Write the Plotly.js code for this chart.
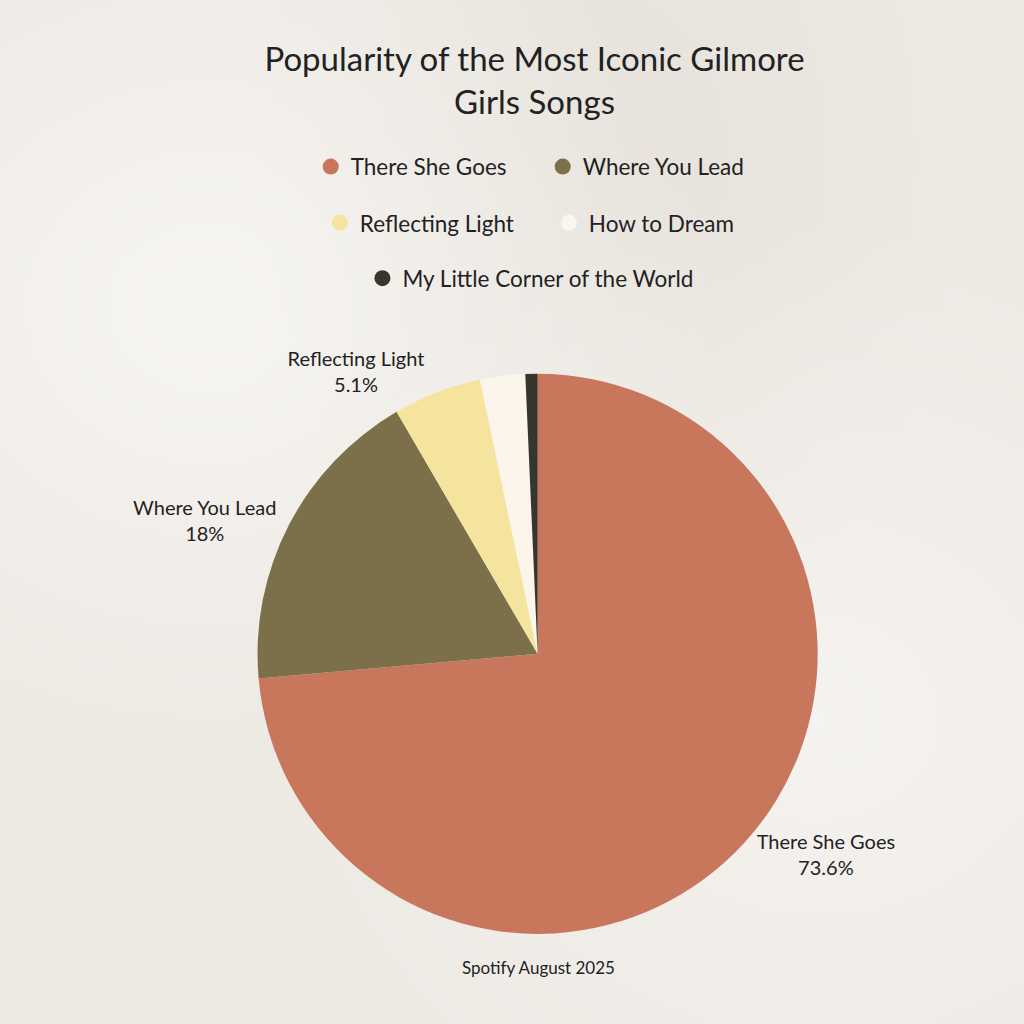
<!DOCTYPE html>
<html>
<head>
<meta charset="utf-8">
<script src="https://cdn.plot.ly/plotly-3.0.1.min.js"></script>
<style>
  html, body { margin: 0; padding: 0; }
  body {
    width: 1024px; height: 1024px;
    background:
      radial-gradient(ellipse at 20% 30%, rgba(255,255,255,0.55), rgba(255,255,255,0) 45%),
      radial-gradient(ellipse at 80% 70%, rgba(255,255,255,0.45), rgba(255,255,255,0) 50%),
      radial-gradient(ellipse at 60% 15%, rgba(220,214,205,0.35), rgba(220,214,205,0) 40%),
      #ede9e3;
  }
  #chart { width: 1024px; height: 1024px; }
</style>
</head>
<body>
<div id="chart"></div>
<script>
// ---- data ----
const songs = ["There She Goes", "Where You Lead", "Reflecting Light", "How to Dream", "My Little Corner of the World"];
const shares = [73.6, 18, 5.1, 2.6, 0.7];
const colors = ["#c8765c", "#7b7049", "#f4e49e", "#fcf5ec", "#37352c"];
const showLabel = [true, true, true, false, false];
const legendRow = ["legend", "legend", "legend2", "legend2", "legend3"];
const titleText = "Popularity of the Most Iconic Gilmore<br>Girls Songs";
const sourceText = "Spotify August 2025";

const FONT = "Lato, 'Open Sans', sans-serif";
const TEXT = "#222222";

const pieTrace = {
  type: "pie",
  labels: songs,
  values: shares,
  marker: { colors: colors, line: { width: 0 } },
  sort: false,
  direction: "clockwise",
  rotation: 0,
  textposition: "outside",
  texttemplate: showLabel.map(s => s ? "%{label}<br>%{percent}" : ""),
  textfont: { family: FONT, size: 20, color: TEXT },
  showlegend: false,
  hoverinfo: "label+percent",
  domain: { x: [0.05, 1.0], y: [0.088, 0.635] }
};

// legend entries (circle markers), one per song
const legendTraces = songs.map((s, i) => ({
  type: "scatter",
  mode: "markers",
  x: [null], y: [null],
  name: s,
  marker: { color: colors[i], size: 20, symbol: "circle" },
  legend: legendRow[i],
  showlegend: true,
  hoverinfo: "skip"
}));

const legendBase = {
  orientation: "h",
  xanchor: "center",
  yanchor: "middle",
  bgcolor: "rgba(0,0,0,0)",
  font: { family: FONT, size: 22.5, color: TEXT },
  itemsizing: "trace",
  tracegroupgap: 0
};

const layout = {
  width: 1024,
  height: 1024,
  margin: { l: 0, r: 0, t: 0, b: 0 },
  paper_bgcolor: "rgba(0,0,0,0)",
  plot_bgcolor: "rgba(0,0,0,0)",
  title: {
    text: titleText,
    font: { family: FONT, size: 33, color: TEXT },
    x: 0.522, xanchor: "center",
    y: 0.931, yanchor: "top"
  },
  xaxis: { visible: false },
  yaxis: { visible: false },
  legend: Object.assign({}, legendBase, { x: 0.53, y: 0.837, entrywidth: 187 }),
  legend2: Object.assign({}, legendBase, { x: 0.536, y: 0.782, entrywidth: 184 }),
  legend3: Object.assign({}, legendBase, { x: 0.518, y: 0.728 }),
  annotations: [{
    text: sourceText,
    xref: "paper", yref: "paper",
    x: 0.526, y: 0.055,
    xanchor: "center", yanchor: "middle",
    showarrow: false,
    font: { family: FONT, size: 17, color: TEXT }
  }]
};

Plotly.newPlot("chart", [pieTrace].concat(legendTraces), layout, { displayModeBar: false, staticPlot: true });
</script>
</body>
</html>
